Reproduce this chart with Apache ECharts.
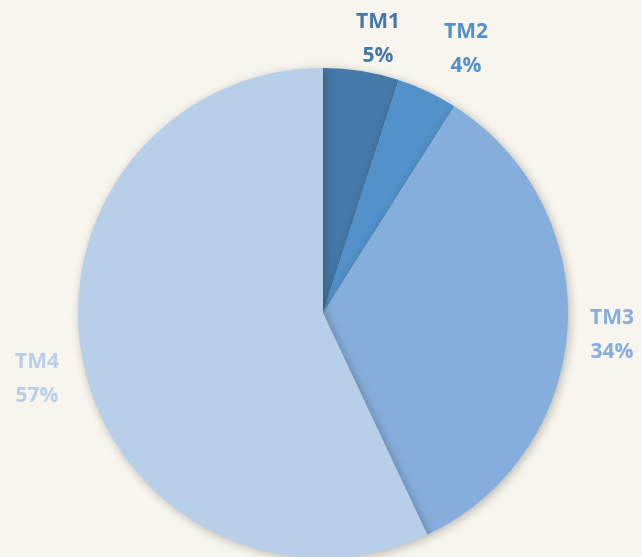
<!DOCTYPE html>
<html><head><meta charset="utf-8">
<script src="https://cdn.jsdelivr.net/npm/echarts@6/dist/echarts.min.js"></script>
<style>html,body{margin:0;padding:0;background:#F8F5EE;}#c{width:642px;height:557px;}</style>
</head><body><div id="c"></div>
<script>
const categories = ['TM1', 'TM2', 'TM3', 'TM4'];
const values = [5, 4, 34, 57];
const colors = ['#4579A9', '#5291C9', '#85AEDC', '#B8CFE9'];
const labelPos = [[378, 39], [466, 49], [612, 335], [37, 379]];

const chart = echarts.init(document.getElementById('c'));
chart.setOption({
  backgroundColor: '#F8F5EE',
  animation: false,
  series: [{
    type: 'pie',
    center: [323, 313],
    radius: 245,
    startAngle: 90,
    clockwise: true,
    data: categories.map((c, i) => ({
      name: c, value: values[i],
      itemStyle: { color: colors[i] },
      label: { color: colors[i] }
    })),
    itemStyle: { shadowBlur: 10, shadowColor: 'rgba(0,0,0,0.25)', shadowOffsetX: 2, shadowOffsetY: 2 },
    label: {
      show: true,
      position: 'inside',
      formatter: p => p.name + '\n' + p.value + '%',
      fontFamily: 'Open Sans',
      fontWeight: 'bold',
      fontSize: 21,
      lineHeight: 34,
      align: 'center',
      overflow: 'none'
    },
    labelLine: { show: false },
    labelLayout: p => ({ x: labelPos[p.dataIndex][0], y: labelPos[p.dataIndex][1], align: 'center', verticalAlign: 'middle', hideOverlap: false })
  }]
});
</script></body></html>
